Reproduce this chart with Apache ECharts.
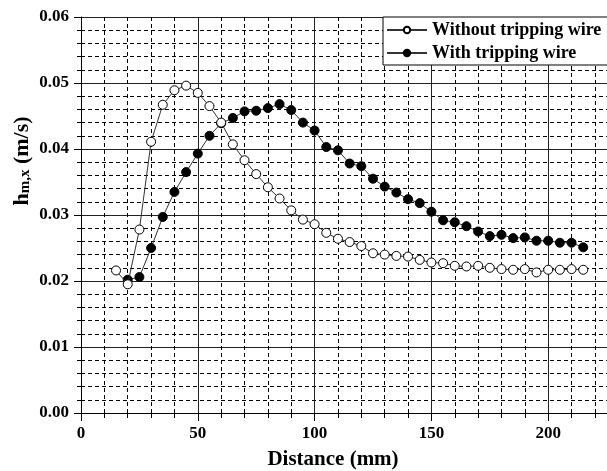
<!DOCTYPE html>
<html><head><meta charset="utf-8">
<script src="https://cdn.jsdelivr.net/npm/echarts@6/dist/echarts.min.js"></script>
<style>html,body{margin:0;padding:0;background:#fff;overflow:hidden}#c{width:665px;height:471px}</style>
</head><body><div id="c"></div>
<script>
var seriesNames = ['Without tripping wire', 'With tripping wire'];
var distWithout = [15,20,25,30,35,40,45,50,55,60,65,70,75,80,85,90,95,100,105,110,115,120,125,130,135,140,145,150,155,160,165,170,175,180,185,190,195,200,205,210,215];
var hWithout = [0.0216,0.0195,0.0278,0.0411,0.0467,0.0489,0.0496,0.0485,0.0465,0.0440,0.0407,0.0383,0.0362,0.0342,0.0325,0.0307,0.0293,0.0286,0.0273,0.0264,0.0259,0.0253,0.0242,0.0240,0.0238,0.0237,0.0232,0.0228,0.0227,0.0223,0.0222,0.0223,0.0220,0.0218,0.0217,0.0218,0.0213,0.0217,0.0217,0.0218,0.0217];
var distWith = [20,25,30,35,40,45,50,55,60,65,70,75,80,85,90,95,100,105,110,115,120,125,130,135,140,145,150,155,160,165,170,175,180,185,190,195,200,205,210,215];
var hWith = [0.0202,0.0206,0.0250,0.0297,0.0335,0.0365,0.0393,0.0420,0.0439,0.0447,0.0457,0.0458,0.0462,0.0468,0.0459,0.0440,0.0428,0.0403,0.0398,0.0378,0.0374,0.0355,0.0343,0.0334,0.0324,0.0318,0.0305,0.0292,0.0289,0.0283,0.0275,0.0268,0.0270,0.0265,0.0266,0.0261,0.0261,0.0258,0.0258,0.0251];
var xTitle = 'Distance (mm)';

function pairs(xs, ys){ return xs.map(function(x,i){ return [x, ys[i]]; }); }
var F = 'Liberation Serif, Times New Roman, serif';
var chart = echarts.init(document.getElementById('c'), null, {renderer:'canvas'});
chart.setOption({
  animation:false,
  backgroundColor:'#fff',
  grid:{left:81, top:17, bottom:58, right:0, containLabel:false},
  xAxis:{type:'value', min:0, max:250, interval:50,
    axisLine:{show:true, onZero:false, lineStyle:{color:'#000', width:1}},
    axisTick:{show:true, inside:false, length:8, lineStyle:{color:'#000'}},
    minorTick:{show:true, splitNumber:5, length:5, lineStyle:{color:'#000'}},
    splitLine:{show:true, lineStyle:{color:'#222', width:1}},
    minorSplitLine:{show:true, lineStyle:{color:'#000', width:1, type:[4,3]}},
    axisLabel:{margin:12, color:'#000', fontFamily:F, fontWeight:'bold', fontSize:17, showMaxLabel:false}
  },
  yAxis:{type:'value', min:0, max:0.06, interval:0.01,
    axisLine:{show:true, lineStyle:{color:'#000', width:1}},
    axisTick:{show:true, inside:false, length:7, lineStyle:{color:'#000'}},
    minorTick:{show:true, splitNumber:5, length:4, lineStyle:{color:'#000'}},
    splitLine:{show:true, lineStyle:{color:'#222', width:1}},
    minorSplitLine:{show:true, lineStyle:{color:'#000', width:1, type:[4,3]}},
    axisLabel:{margin:12, color:'#000', fontFamily:F, fontWeight:'bold', fontSize:17,
      formatter:function(v){return v.toFixed(2);}}
  },
  legend:{data:seriesNames, orient:'vertical', left:383, top:17,
    backgroundColor:'#fff', borderColor:'#000', borderWidth:1,
    padding:[4,12,3,3], itemWidth:40, itemHeight:8, itemGap:5,
    textStyle:{fontFamily:F, fontWeight:'bold', fontSize:18, color:'#000', lineHeight:18}
  },
  graphic:[
    {type:'text', x:333, y:460, style:{text:xTitle, font:'bold 21px ' + F, fill:'#000', align:'center', verticalAlign:'middle'}},
    {type:'text', x:20, y:161, rotation:Math.PI/2, style:{
      text:'{a|h}{b|m,x}{a| (m/s)}', align:'center', verticalAlign:'middle', fill:'#000',
      rich:{a:{font:'bold 22px ' + F, fill:'#000', lineHeight:26, verticalAlign:'bottom'},
            b:{font:'bold 15px ' + F, fill:'#000', lineHeight:15, verticalAlign:'bottom'}}
    }}
  ],
  series:[
    {name:seriesNames[1], type:'line', data:pairs(distWith, hWith), symbol:'circle', symbolSize:9,
      lineStyle:{color:'#333', width:1}, itemStyle:{color:'#000', borderColor:'#000', borderWidth:1}, z:2},
    {name:seriesNames[0], type:'line', data:pairs(distWithout, hWithout), symbol:'circle', symbolSize:9,
      lineStyle:{color:'#333', width:1}, itemStyle:{color:'#fff', borderColor:'#000', borderWidth:1}, z:3}
  ]
});
</script></body></html>
